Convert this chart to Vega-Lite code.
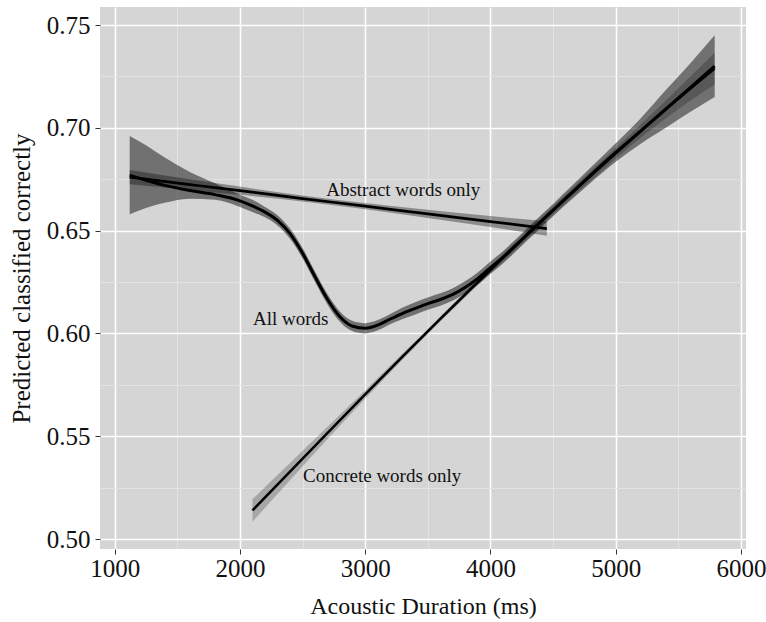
{
  "$schema": "https://vega.github.io/schema/vega-lite/v6.json",
  "width": 646,
  "height": 542,
  "autosize": {"type": "none"},
  "padding": {"left": 100, "top": 7, "right": 20, "bottom": 73},
  "background": "white",
  "config": {
    "view": {"fill": "#d5d5d5", "stroke": null},
    "font": "Liberation Serif",
    "axis": {
      "labelFont": "Liberation Serif",
      "titleFont": "Liberation Serif",
      "titleFontWeight": "normal",
      "labelColor": "#111111",
      "titleColor": "#111111",
      "domain": false,
      "tickColor": "#333333",
      "tickWidth": 1,
      "tickSize": 5
    }
  },
  "datasets": {
    "curves": [
      {"series": "All words", "x": 1120, "y": 0.677, "lo": 0.658, "hi": 0.696},
      {"series": "All words", "x": 1250, "y": 0.6745, "lo": 0.661, "hi": 0.6915},
      {"series": "All words", "x": 1400, "y": 0.672, "lo": 0.6635, "hi": 0.6855},
      {"series": "All words", "x": 1600, "y": 0.6695, "lo": 0.6655, "hi": 0.6785},
      {"series": "All words", "x": 1800, "y": 0.6675, "lo": 0.665, "hi": 0.673},
      {"series": "All words", "x": 2000, "y": 0.6645, "lo": 0.6615, "hi": 0.6675},
      {"series": "All words", "x": 2100, "y": 0.662, "lo": 0.659, "hi": 0.665},
      {"series": "All words", "x": 2200, "y": 0.659, "lo": 0.6565, "hi": 0.6615},
      {"series": "All words", "x": 2300, "y": 0.655, "lo": 0.6525, "hi": 0.6575},
      {"series": "All words", "x": 2400, "y": 0.6485, "lo": 0.646, "hi": 0.651},
      {"series": "All words", "x": 2500, "y": 0.639, "lo": 0.6365, "hi": 0.6415},
      {"series": "All words", "x": 2600, "y": 0.6275, "lo": 0.625, "hi": 0.63},
      {"series": "All words", "x": 2700, "y": 0.6165, "lo": 0.614, "hi": 0.619},
      {"series": "All words", "x": 2800, "y": 0.608, "lo": 0.6055, "hi": 0.6105},
      {"series": "All words", "x": 2900, "y": 0.6035, "lo": 0.601, "hi": 0.606},
      {"series": "All words", "x": 3000, "y": 0.6025, "lo": 0.6, "hi": 0.605},
      {"series": "All words", "x": 3100, "y": 0.604, "lo": 0.6015, "hi": 0.6065},
      {"series": "All words", "x": 3200, "y": 0.607, "lo": 0.6045, "hi": 0.6095},
      {"series": "All words", "x": 3300, "y": 0.6098, "lo": 0.607, "hi": 0.6126},
      {"series": "All words", "x": 3400, "y": 0.6122, "lo": 0.6092, "hi": 0.6152},
      {"series": "All words", "x": 3500, "y": 0.6145, "lo": 0.6115, "hi": 0.6175},
      {"series": "All words", "x": 3600, "y": 0.6165, "lo": 0.6135, "hi": 0.6195},
      {"series": "All words", "x": 3700, "y": 0.619, "lo": 0.616, "hi": 0.622},
      {"series": "All words", "x": 3800, "y": 0.6225, "lo": 0.6195, "hi": 0.6255},
      {"series": "All words", "x": 3900, "y": 0.6268, "lo": 0.6238, "hi": 0.6298},
      {"series": "All words", "x": 4000, "y": 0.632, "lo": 0.629, "hi": 0.635},
      {"series": "All words", "x": 4100, "y": 0.637, "lo": 0.634, "hi": 0.64},
      {"series": "All words", "x": 4200, "y": 0.6427, "lo": 0.6397, "hi": 0.6457},
      {"series": "All words", "x": 4300, "y": 0.6485, "lo": 0.6455, "hi": 0.6515},
      {"series": "All words", "x": 4400, "y": 0.6543, "lo": 0.6513, "hi": 0.6573},
      {"series": "All words", "x": 4500, "y": 0.66, "lo": 0.657, "hi": 0.663},
      {"series": "All words", "x": 4650, "y": 0.6685, "lo": 0.6652, "hi": 0.6718},
      {"series": "All words", "x": 4800, "y": 0.677, "lo": 0.6733, "hi": 0.6807},
      {"series": "All words", "x": 5000, "y": 0.688, "lo": 0.6835, "hi": 0.6925},
      {"series": "All words", "x": 5200, "y": 0.6985, "lo": 0.6923, "hi": 0.7047},
      {"series": "All words", "x": 5400, "y": 0.7092, "lo": 0.7, "hi": 0.7184},
      {"series": "All words", "x": 5600, "y": 0.7198, "lo": 0.7079, "hi": 0.7317},
      {"series": "All words", "x": 5790, "y": 0.73, "lo": 0.715, "hi": 0.745},
      {"series": "Abstract words only", "x": 1120, "y": 0.676, "lo": 0.6725, "hi": 0.6795},
      {"series": "Abstract words only", "x": 1600, "y": 0.6724, "lo": 0.6698, "hi": 0.675},
      {"series": "Abstract words only", "x": 2000, "y": 0.6694, "lo": 0.6674, "hi": 0.6714},
      {"series": "Abstract words only", "x": 2500, "y": 0.6656, "lo": 0.6641, "hi": 0.6671},
      {"series": "Abstract words only", "x": 3000, "y": 0.6619, "lo": 0.6604, "hi": 0.6634},
      {"series": "Abstract words only", "x": 3500, "y": 0.6581, "lo": 0.6561, "hi": 0.6601},
      {"series": "Abstract words only", "x": 4000, "y": 0.6544, "lo": 0.6517, "hi": 0.6571},
      {"series": "Abstract words only", "x": 4450, "y": 0.651, "lo": 0.6475, "hi": 0.6545},
      {"series": "Concrete words only", "x": 2100, "y": 0.5139, "lo": 0.5084, "hi": 0.5194},
      {"series": "Concrete words only", "x": 2400, "y": 0.5328, "lo": 0.5286, "hi": 0.537},
      {"series": "Concrete words only", "x": 2700, "y": 0.5516, "lo": 0.5486, "hi": 0.5546},
      {"series": "Concrete words only", "x": 3000, "y": 0.5703, "lo": 0.5682, "hi": 0.5724},
      {"series": "Concrete words only", "x": 3300, "y": 0.5888, "lo": 0.5873, "hi": 0.5903},
      {"series": "Concrete words only", "x": 3600, "y": 0.6071, "lo": 0.6058, "hi": 0.6084},
      {"series": "Concrete words only", "x": 3900, "y": 0.625, "lo": 0.6234, "hi": 0.6266},
      {"series": "Concrete words only", "x": 4200, "y": 0.6426, "lo": 0.6406, "hi": 0.6446},
      {"series": "Concrete words only", "x": 4500, "y": 0.6598, "lo": 0.6577, "hi": 0.6619},
      {"series": "Concrete words only", "x": 4800, "y": 0.6766, "lo": 0.6742, "hi": 0.679},
      {"series": "Concrete words only", "x": 5100, "y": 0.693, "lo": 0.6902, "hi": 0.6958},
      {"series": "Concrete words only", "x": 5400, "y": 0.7089, "lo": 0.7045, "hi": 0.7133},
      {"series": "Concrete words only", "x": 5700, "y": 0.7243, "lo": 0.7175, "hi": 0.7311},
      {"series": "Concrete words only", "x": 5790, "y": 0.7288, "lo": 0.7211, "hi": 0.7365}
    ],
    "labels": [
      {"label": "Abstract words only", "x": 3304, "y": 0.6668},
      {"label": "All words", "x": 2406, "y": 0.6041},
      {"label": "Concrete words only", "x": 3136, "y": 0.5279}
    ]
  },
  "resolve": {"axis": {"x": "independent", "y": "independent"}},
  "layer": [
    {
      "data": {"name": "curves"},
      "mark": {"type": "area", "interpolate": "monotone", "fill": "black"},
      "encoding": {
        "x": {
          "field": "x", "type": "quantitative",
          "scale": {"domain": [883, 6040], "nice": false, "zero": false},
          "axis": {"orient": "bottom", "values": [1500, 2500, 3500, 4500, 5500], "grid": true, "gridColor": "#e3e3e3", "gridWidth": 1, "labels": false, "ticks": false, "domain": false, "title": null}
        },
        "y": {
          "field": "lo", "type": "quantitative",
          "scale": {"domain": [0.49514, 0.75876], "nice": false, "zero": false},
          "axis": {"orient": "left", "values": [0.525, 0.575, 0.625, 0.675, 0.725], "grid": true, "gridColor": "#e3e3e3", "gridWidth": 1, "labels": false, "ticks": false, "domain": false, "title": null}
        },
        "y2": {"field": "hi"},
        "detail": {"field": "series"},
        "fillOpacity": {
          "field": "series", "type": "nominal",
          "scale": {"domain": ["All words", "Abstract words only", "Concrete words only"], "range": [0.47, 0.22, 0.47]},
          "legend": null
        }
      }
    },
    {
      "data": {"name": "curves"},
      "mark": {"type": "line", "interpolate": "monotone", "color": "black"},
      "encoding": {
        "x": {
          "field": "x", "type": "quantitative",
          "axis": {"orient": "bottom", "values": [1000, 2000, 3000, 4000, 5000, 6000], "format": "d", "grid": true, "gridColor": "white", "gridWidth": 1.6, "labelFontSize": 25, "labelPadding": 2, "title": "Acoustic Duration (ms)", "titleFontSize": 24, "titlePadding": 13}
        },
        "y": {
          "field": "y", "type": "quantitative",
          "axis": {"orient": "left", "values": [0.5, 0.55, 0.6, 0.65, 0.7, 0.75], "format": ".2f", "grid": true, "gridColor": "white", "gridWidth": 1.6, "labelFontSize": 25, "labelPadding": 5, "title": "Predicted classified correctly", "titleFontSize": 25, "titlePadding": 12}
        },
        "detail": {"field": "series"},
        "strokeWidth": {
          "field": "series", "type": "nominal",
          "scale": {"domain": ["All words", "Abstract words only", "Concrete words only"], "range": [3, 2.5, 2]},
          "legend": null
        }
      }
    },
    {
      "data": {"name": "labels"},
      "mark": {"type": "text", "font": "Liberation Serif", "fontSize": 19, "align": "center", "baseline": "alphabetic", "color": "#111111"},
      "encoding": {
        "x": {"field": "x", "type": "quantitative", "axis": null},
        "y": {"field": "y", "type": "quantitative", "axis": null},
        "text": {"field": "label"}
      }
    }
  ]
}
